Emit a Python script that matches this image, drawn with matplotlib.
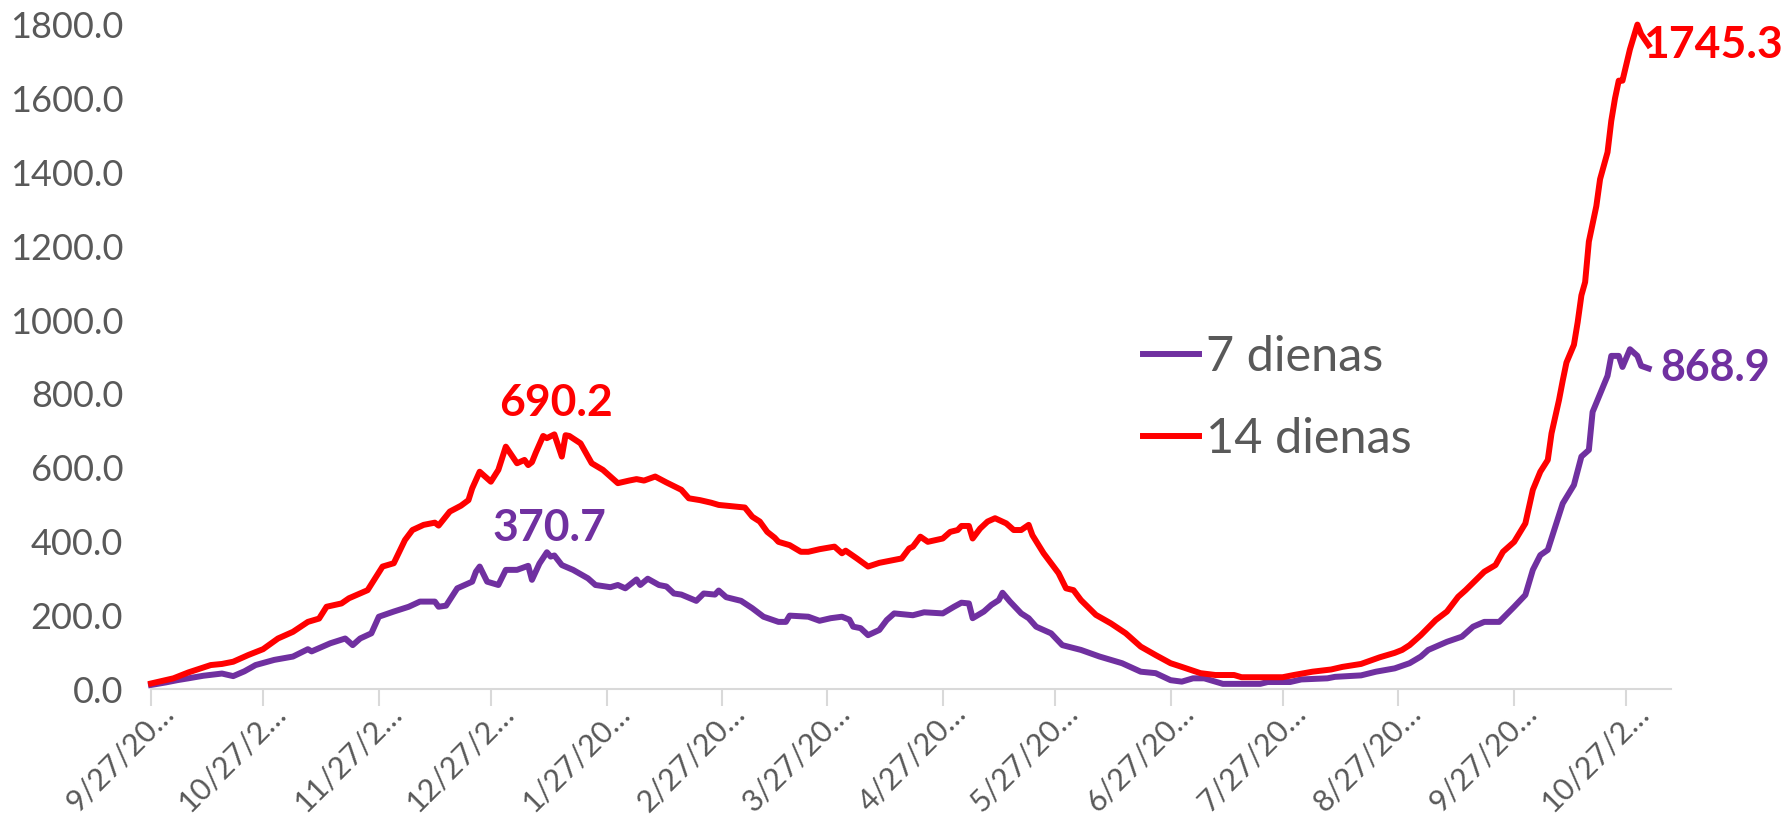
import numpy as np
import pandas as pd
import matplotlib
matplotlib.use('Agg')
import matplotlib.pyplot as plt
import matplotlib.transforms as mtransforms

plt.rcParams['font.family'] = ['Lato', 'DejaVu Sans']

start = pd.Timestamp('2020-09-27')

# 14 day incidence (days since 2020-09-27, value)
days14 = [0, 3, 6, 10, 13, 16, 19, 22, 26, 30, 34, 38, 42, 45, 47, 51, 53, 58, 62, 65,
          68, 70, 73, 76, 77, 80, 83, 85, 86, 88, 91, 93, 95, 98, 100, 101, 102, 103, 105, 106,
          108, 110, 111, 112, 115, 118, 121, 125, 128, 130, 132, 135, 138, 142, 144, 147, 150, 152, 157, 159,
          161, 163, 165, 167, 168, 171, 174, 176, 179, 183, 185, 186, 189, 192, 195, 199, 201, 203, 204, 206,
          208, 212, 214, 216, 217, 219, 220, 222, 224, 226, 229, 231, 233, 235, 236, 239, 243, 245, 247, 249,
          253, 257, 261, 265, 269, 273, 276, 281, 285, 290, 292, 303, 306, 311, 316, 319, 324, 329, 333, 335,
          337, 340, 344, 347, 350, 352, 357, 360, 362, 365, 368, 370, 372, 374, 375, 377, 378, 379, 381, 382,
          383, 384, 385, 387, 388, 390, 391, 392, 393, 394, 396, 398, 399, 401]
vals14 = [15, 22, 29, 45, 55, 65, 68, 74, 92, 108, 137, 155, 182, 191, 223, 232, 246, 268, 332, 341,
          404, 431, 445, 451, 443, 481, 497, 512, 544, 589, 562, 594, 657, 612, 621, 607, 615, 640, 686, 680,
          690.2, 630, 688, 686, 666, 612, 594, 558, 565, 569, 565, 576, 560, 540, 517, 512, 505, 499, 494, 492,
          467, 454, 426, 410, 399, 390, 372, 372, 379, 386, 368, 375, 354, 332, 342, 350, 354, 381, 386, 413,
          399, 408, 426, 431, 442, 442, 408, 435, 454, 463, 449, 431, 431, 445, 417, 368, 314, 273, 268, 241,
          201, 178, 151, 115, 92, 70, 60, 43, 38, 38, 32, 32, 38, 47, 53, 60, 68, 86, 98, 106,
          119, 146, 187, 210, 250, 268, 318, 336, 372, 399, 449, 540, 589, 621, 693, 783, 836, 885, 933, 994,
          1067, 1103, 1213, 1309, 1382, 1455, 1540, 1601, 1649, 1649, 1734, 1801, 1775, 1745.3]

# 7 day incidence
days7 = [0, 4, 7, 10, 14, 19, 22, 25, 28, 33, 38, 42, 43, 48, 52, 54, 56, 59, 61, 65,
         69, 72, 76, 77, 79, 82, 86, 87, 88, 90, 93, 95, 98, 101, 102, 104, 106, 107, 108, 110,
         113, 117, 119, 123, 125, 127, 130, 131, 133, 136, 138, 140, 142, 146, 148, 151, 152, 154, 158, 161,
         164, 168, 170, 171, 176, 179, 182, 185, 187, 188, 190, 192, 195, 197, 199, 204, 207, 212, 215, 217,
         219, 220, 223, 225, 227, 228, 230, 233, 235, 237, 241, 244, 249, 254, 260, 265, 269, 273, 276, 279,
         282, 285, 287, 297, 299, 305, 308, 315, 317, 324, 328, 333, 337, 340, 342, 347, 351, 354, 357, 361,
         365, 368, 370, 372, 374, 376, 378, 381, 383, 385, 386, 388, 390, 391, 393, 394, 396, 398, 399, 401]
vals7 = [11, 18, 24, 29, 36, 42, 35, 48, 65, 79, 88, 108, 102, 124, 137, 119, 137, 151, 196, 210,
         223, 237, 237, 223, 226, 273, 291, 318, 332, 291, 282, 323, 323, 334, 296, 340, 370.7, 359, 362, 336,
         323, 300, 282, 276, 282, 273, 297, 282, 299, 282, 278, 259, 256, 239, 259, 256, 267, 249, 239, 219,
         196, 182, 182, 199, 196, 185, 192, 196, 188, 169, 165, 146, 160, 187, 205, 200, 208, 205, 223, 234,
         232, 192, 210, 228, 241, 261, 237, 205, 192, 169, 151, 119, 106, 88, 70, 47, 43, 24, 20, 29,
         29, 20, 14, 14, 19, 19, 26, 29, 33, 37, 47, 56, 70, 88, 106, 128, 142, 169, 182, 182,
         223, 255, 323, 363, 377, 440, 503, 553, 630, 648, 751, 800, 849, 903, 903, 873, 921, 903, 876, 868.9]

tick_dates = ['2020-09-27', '2020-10-27', '2020-11-27', '2020-12-27', '2021-01-27', '2021-02-27',
              '2021-03-27', '2021-04-27', '2021-05-27', '2021-06-27', '2021-07-27', '2021-08-27',
              '2021-09-27', '2021-10-27']
tick_labels = ['9/27/20…', '10/27/2…', '11/27/2…', '12/27/2…', '1/27/20…', '2/27/20…',
               '3/27/20…', '4/27/20…', '5/27/20…', '6/27/20…', '7/27/20…', '8/27/20…',
               '9/27/20…', '10/27/2…']

purple = '#7030A0'
red = '#FF0000'
grey = '#595959'

x14 = start + pd.to_timedelta(days14, unit='D')
x7 = start + pd.to_timedelta(days7, unit='D')

fig = plt.figure(figsize=(17.83, 8.24), dpi=100)
ax = fig.add_axes([0.0847, 0.1638, 0.8525, 0.8059])

ax.plot(x7, vals7, color=purple, lw=4.3, label='7 dienas', solid_joinstyle='round', clip_on=False)
ax.plot(x14, vals14, color=red, lw=4.3, label='14 dienas', solid_joinstyle='round', clip_on=False)

ax.set_ylim(0, 1800)
ax.set_yticks(np.arange(0, 1801, 200))
ax.set_yticklabels(['%.1f' % v for v in np.arange(0, 1801, 200)])
ax.set_xlim(start, start + pd.Timedelta(days=407))
ax.set_xticks(pd.to_datetime(tick_dates))
ax.set_xticklabels(tick_labels, rotation=45, ha='right')

for s in ['top', 'right', 'left']:
    ax.spines[s].set_visible(False)
ax.spines['bottom'].set_color('#d9d9d9')
ax.spines['bottom'].set_linewidth(1.5)
ax.tick_params(axis='y', length=0, pad=20, labelsize=26, labelcolor=grey)
ax.tick_params(axis='x', length=12, width=1.5, color='#d9d9d9', pad=4, labelsize=22, labelcolor=grey)

# shift rotated date labels so their ends sit just right of the ticks
offset = mtransforms.ScaledTranslation(0.28, 0.13, fig.dpi_scale_trans)
for lbl in ax.get_xticklabels():
    lbl.set_transform(lbl.get_transform() + offset)

# data labels
ax.annotate('690.2', (start + pd.Timedelta(days=108), 690.2), xytext=(2, 11), textcoords='offset pixels',
            ha='center', va='bottom', color=red, fontsize=32, fontweight='bold')
ax.annotate('370.7', (start + pd.Timedelta(days=106), 370.7), xytext=(3, 4), textcoords='offset pixels',
            ha='center', va='bottom', color=purple, fontsize=32, fontweight='bold')
ax.annotate('1745.3', (start + pd.Timedelta(days=401), 1745.3), xytext=(-6, 0), textcoords='offset pixels',
            ha='left', va='center', color=red, fontsize=32, fontweight='bold', annotation_clip=False)
ax.annotate('868.9', (start + pd.Timedelta(days=401), 868.9), xytext=(12, 0), textcoords='offset pixels',
            ha='left', va='center', color=purple, fontsize=31, fontweight='bold', annotation_clip=False)

leg = ax.legend(loc='upper left', bbox_to_anchor=(0.641, 0.594), bbox_transform=fig.transFigure,
                frameon=False, fontsize=35, handlelength=1.15, handletextpad=0.15,
                labelspacing=0.8, borderpad=0, borderaxespad=0)
for t in leg.get_texts():
    t.set_color(grey)

fig.savefig('out.png', dpi=100)
